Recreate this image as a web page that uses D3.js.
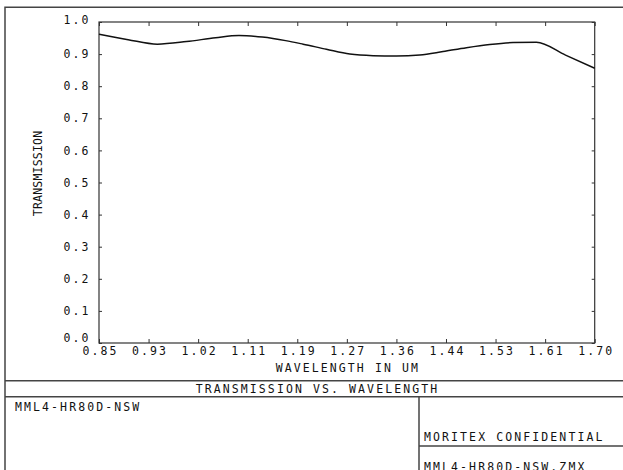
<!DOCTYPE html>
<html>
<head>
<meta charset="utf-8">
<script src="https://cdn.jsdelivr.net/npm/d3@7"></script>
<style>
  body { margin: 0; background: #fff; }
  text { font-family: "DejaVu Sans Mono", monospace; font-size: 11.5px; letter-spacing: 2.1px; fill: #111; }
</style>
</head>
<body>
<div id="chart"></div>
<script>
// Chart data
const wavelength = [0.85, 0.90, 0.95, 1.00, 1.05, 1.09, 1.13, 1.17, 1.20, 1.24, 1.28,
                    1.32, 1.36, 1.40, 1.44, 1.48, 1.52, 1.56, 1.60, 1.65, 1.70];
const transmission = [0.962, 0.945, 0.931, 0.939, 0.951, 0.958, 0.953, 0.942, 0.931, 0.915, 0.900,
                      0.895, 0.894, 0.897, 0.908, 0.920, 0.930, 0.936, 0.937, 0.897, 0.856];

const xTickValues = [0.85, 0.935, 1.02, 1.105, 1.19, 1.275, 1.36, 1.445, 1.53, 1.615, 1.70];
const xTickLabels = ["0.85", "0.93", "1.02", "1.11", "1.19", "1.27", "1.36", "1.44", "1.53", "1.61", "1.70"];
const yTickValues = [0, 0.1, 0.2, 0.3, 0.4, 0.5, 0.6, 0.7, 0.8, 0.9, 1.0];
const yTickLabels = ["0.0", "0.1", "0.2", "0.3", "0.4", "0.5", "0.6", "0.7", "0.8", "0.9", "1.0"];

const width = 623;
const height = 470;

const svg = d3.select("#chart")
    .append("svg")
    .attr("width", width)
    .attr("height", height);

// Plot box
const plotLeft = 99, plotRight = 594.7, plotTop = 22, plotBottom = 343;

const x = d3.scaleLinear().domain([0.85, 1.70]).range([plotLeft, plotRight]);
const y = d3.scaleLinear().domain([0, 1]).range([plotBottom, plotTop]);

// Outer frame lines
const frame = svg.append("g").attr("stroke", "#444").attr("stroke-width", 1.5).attr("fill", "none");
frame.append("path").attr("d", `M5,${height} V7.3 H${width}`);
frame.append("path").attr("d", `M5,380.7 H${width}`);
frame.append("path").attr("d", `M5,396.7 H${width}`);
frame.append("path").attr("d", `M419,396.7 V${height}`);
frame.append("path").attr("d", `M419,446 H${width}`);

// Axes
function styleAxis(g) {
    g.select(".domain").remove();
    g.selectAll(".tick line").attr("stroke", "#333").attr("stroke-width", 1);
}

svg.append("g")
    .attr("transform", `translate(0,${plotBottom})`)
    .call(d3.axisBottom(x).tickValues(xTickValues)
        .tickFormat((d, i) => xTickLabels[i]).tickSize(-4).tickPadding(4))
    .call(styleAxis)
    .selectAll("text").attr("dy", "0.71em").attr("dx", "1px");

svg.append("g")
    .attr("transform", `translate(0,${plotTop})`)
    .call(d3.axisTop(x).tickValues(xTickValues).tickFormat("").tickSize(-4))
    .call(styleAxis);

svg.append("g")
    .attr("transform", `translate(${plotLeft},0)`)
    .call(d3.axisLeft(y).tickValues(yTickValues)
        .tickFormat((d, i) => yTickLabels[i]).tickSize(-3).tickPadding(8.5))
    .call(styleAxis)
    .selectAll(".tick text")
    .attr("y", d => d === 0 ? -5 : (d === 1 ? -2 : 0));

svg.append("g")
    .attr("transform", `translate(${plotRight},0)`)
    .call(d3.axisRight(y).tickValues(yTickValues).tickFormat("").tickSize(-3))
    .call(styleAxis);

svg.selectAll(".tick text")
    .style("font-family", "DejaVu Sans Mono, monospace")
    .style("font-size", "11.5px")
    .style("fill", "#111");

// Plot border
svg.append("rect")
    .attr("x", plotLeft).attr("y", plotTop)
    .attr("width", plotRight - plotLeft).attr("height", plotBottom - plotTop)
    .attr("fill", "none").attr("stroke", "#333").attr("stroke-width", 1.2);

// Curve
const line = d3.line()
    .x((d, i) => x(wavelength[i]))
    .y(d => y(d))
    .curve(d3.curveMonotoneX);

svg.append("path")
    .datum(transmission)
    .attr("d", line)
    .attr("fill", "none")
    .attr("stroke", "#111")
    .attr("stroke-width", 1.5);

// Titles
svg.append("text")
    .attr("x", (plotLeft + plotRight) / 2 + 1).attr("y", 367.5)
    .attr("dy", "0.35em").attr("text-anchor", "middle")
    .text("WAVELENGTH IN UM");

svg.append("text")
    .attr("transform", "translate(37.5,173.5) rotate(-90)")
    .attr("dy", "0.35em").attr("text-anchor", "middle")
    .style("letter-spacing", "0.2px")
    .text("TRANSMISSION");

svg.append("text")
    .attr("x", 317.5).attr("y", 389.3)
    .attr("dy", "0.35em").attr("text-anchor", "middle")
    .text("TRANSMISSION VS. WAVELENGTH");

svg.append("text")
    .attr("x", 15).attr("y", 407.3)
    .attr("dy", "0.35em")
    .text("MML4-HR80D-NSW");

svg.append("text")
    .attr("x", 424).attr("y", 436.7)
    .attr("dy", "0.35em")
    .text("MORITEX CONFIDENTIAL");

svg.append("text")
    .attr("x", 424).attr("y", 466.7)
    .attr("dy", "0.35em")
    .text("MML4-HR80D-NSW.ZMX");
</script>
</body>
</html>
